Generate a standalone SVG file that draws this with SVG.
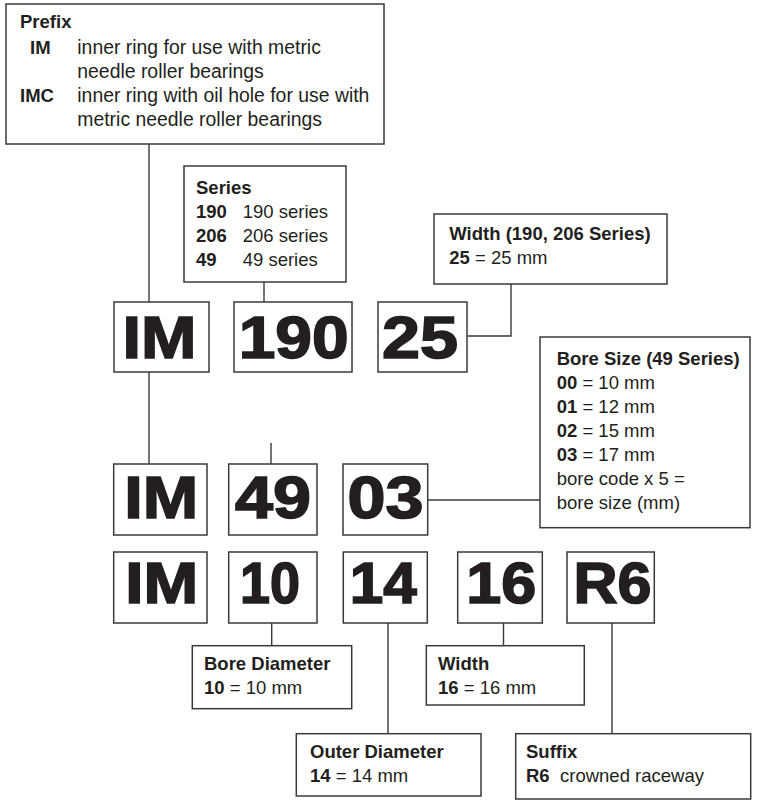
<svg xmlns="http://www.w3.org/2000/svg" width="757" height="805" viewBox="0 0 757 805">
<style>
.box{fill:#fff;stroke:#3a3a3a;stroke-width:1.5}
.ln{fill:none;stroke:#3a3a3a;stroke-width:1.4}
.t{font-family:"Liberation Sans",Arial,sans-serif;font-size:18.5px;fill:#231f20}
.p{font-size:19.4px}
.b{font-weight:bold}
.code{font-family:"Liberation Sans",Arial,sans-serif;font-weight:bold;fill:#231f20;stroke:#231f20;stroke-width:1.6;text-anchor:middle}
.r12{font-size:59px}
.r3{font-size:57px}
</style>
<rect width="757" height="805" fill="#fff"/>
<g id="connectors">
<path class="ln" d="M149,144V302"/>
<path class="ln" d="M264,282V302"/>
<path class="ln" d="M511,284V336H467"/>
<path class="ln" d="M149,372V464"/>
<path class="ln" d="M271,443V464"/>
<path class="ln" d="M427.7,500H540"/>
<path class="ln" d="M271.7,623V646"/>
<path class="ln" d="M388,623V734"/>
<path class="ln" d="M503.5,623V646"/>
<path class="ln" d="M612,623V734"/>
</g>
<g id="prefix">
<rect class="box" x="6" y="4" width="378" height="140"/>
<text class="t b" x="20" y="28">Prefix</text>
<text class="t b" x="30" y="53.5">IM</text>
<text class="t p" x="77.3" y="53.5">inner ring for use with metric</text>
<text class="t p" x="77.3" y="77.5">needle roller bearings</text>
<text class="t b" x="20" y="101.5">IMC</text>
<text class="t p" x="77.3" y="101.5">inner ring with oil hole for use with</text>
<text class="t p" x="77.3" y="125.5">metric needle roller bearings</text>
</g>
<g id="series">
<rect class="box" x="184" y="166" width="162" height="116"/>
<text class="t b" x="196" y="193.5">Series</text>
<text class="t b" x="196" y="218">190</text>
<text class="t" x="242.7" y="218">190 series</text>
<text class="t b" x="196" y="242">206</text>
<text class="t" x="242.7" y="242">206 series</text>
<text class="t b" x="196" y="266">49</text>
<text class="t" x="242.7" y="266">49 series</text>
</g>
<g id="width-top">
<rect class="box" x="434" y="214" width="233" height="70"/>
<text class="t b" x="449.3" y="240">Width (190, 206 Series)</text>
<text class="t" x="449.3" y="264"><tspan class="b">25</tspan> = 25 mm</text>
</g>
<g id="bore-size">
<rect class="box" x="540" y="337" width="210" height="190.7"/>
<text class="t b" x="556.7" y="365">Bore Size (49 Series)</text>
<text class="t" x="556.7" y="389"><tspan class="b">00</tspan> = 10 mm</text>
<text class="t" x="556.7" y="413"><tspan class="b">01</tspan> = 12 mm</text>
<text class="t" x="556.7" y="437"><tspan class="b">02</tspan> = 15 mm</text>
<text class="t" x="556.7" y="461"><tspan class="b">03</tspan> = 17 mm</text>
<text class="t" x="556.7" y="485">bore code x 5 =</text>
<text class="t" x="556.7" y="509">bore size (mm)</text>
</g>
<g id="r1-im"><rect class="box" x="114" y="302" width="95" height="70"/><text class="code r12" x="159.5" y="358.3" textLength="74" lengthAdjust="spacingAndGlyphs">IM</text></g>
<g id="r1-190"><rect class="box" x="234" y="302" width="118" height="70"/><text class="code r12" x="293.7" y="358.3" textLength="110" lengthAdjust="spacingAndGlyphs">190</text></g>
<g id="r1-25"><rect class="box" x="378" y="302" width="89" height="70"/><text class="code r12" x="420" y="358.3" textLength="76" lengthAdjust="spacingAndGlyphs">25</text></g>
<g id="r2-im"><rect class="box" x="113.7" y="464" width="93.3" height="71"/><text class="code r12" x="161.3" y="518.3" textLength="74" lengthAdjust="spacingAndGlyphs">IM</text></g>
<g id="r2-49"><rect class="box" x="228.7" y="464" width="88.3" height="71"/><text class="code r12" x="273" y="518.3" textLength="76" lengthAdjust="spacingAndGlyphs">49</text></g>
<g id="r2-03"><rect class="box" x="343" y="464" width="84.7" height="71"/><text class="code r12" x="385.5" y="518.3" textLength="76" lengthAdjust="spacingAndGlyphs">03</text></g>
<g id="r3-im"><rect class="box" x="113.7" y="552" width="93.3" height="71"/><text class="code r3" x="161.7" y="603.3" textLength="73" lengthAdjust="spacingAndGlyphs">IM</text></g>
<g id="r3-10"><rect class="box" x="228.7" y="552" width="88.3" height="71"/><text class="code r3" x="270" y="603.3" textLength="60" lengthAdjust="spacingAndGlyphs">10</text></g>
<g id="r3-14"><rect class="box" x="343.3" y="552" width="84" height="71"/><text class="code r3" x="383.3" y="603.3" textLength="67" lengthAdjust="spacingAndGlyphs">14</text></g>
<g id="r3-16"><rect class="box" x="457.7" y="552" width="84.6" height="71"/><text class="code r3" x="501.3" y="603.3" textLength="70" lengthAdjust="spacingAndGlyphs">16</text></g>
<g id="r3-r6"><rect class="box" x="567" y="552" width="87.3" height="71"/><text class="code r3" x="612.5" y="603.3" textLength="78" lengthAdjust="spacingAndGlyphs">R6</text></g>
<g id="bore-diameter">
<rect class="box" x="192.3" y="645.7" width="159.4" height="63"/>
<text class="t b" x="204" y="670">Bore Diameter</text>
<text class="t" x="204" y="694"><tspan class="b">10</tspan> = 10 mm</text>
</g>
<g id="width-bottom">
<rect class="box" x="426.3" y="645.7" width="158" height="59.3"/>
<text class="t b" x="438" y="669.5">Width</text>
<text class="t" x="438" y="693.5"><tspan class="b">16</tspan> = 16 mm</text>
</g>
<g id="outer-diameter">
<rect class="box" x="296.3" y="733.7" width="184.7" height="62.3"/>
<text class="t b" x="310" y="758">Outer Diameter</text>
<text class="t" x="310" y="782"><tspan class="b">14</tspan> = 14 mm</text>
</g>
<g id="suffix">
<rect class="box" x="515.7" y="733.7" width="235" height="65.3"/>
<text class="t b" x="526" y="758">Suffix</text>
<text class="t b" x="526" y="782">R6</text>
<text class="t" x="560" y="782">crowned raceway</text>
</g>
</svg>
